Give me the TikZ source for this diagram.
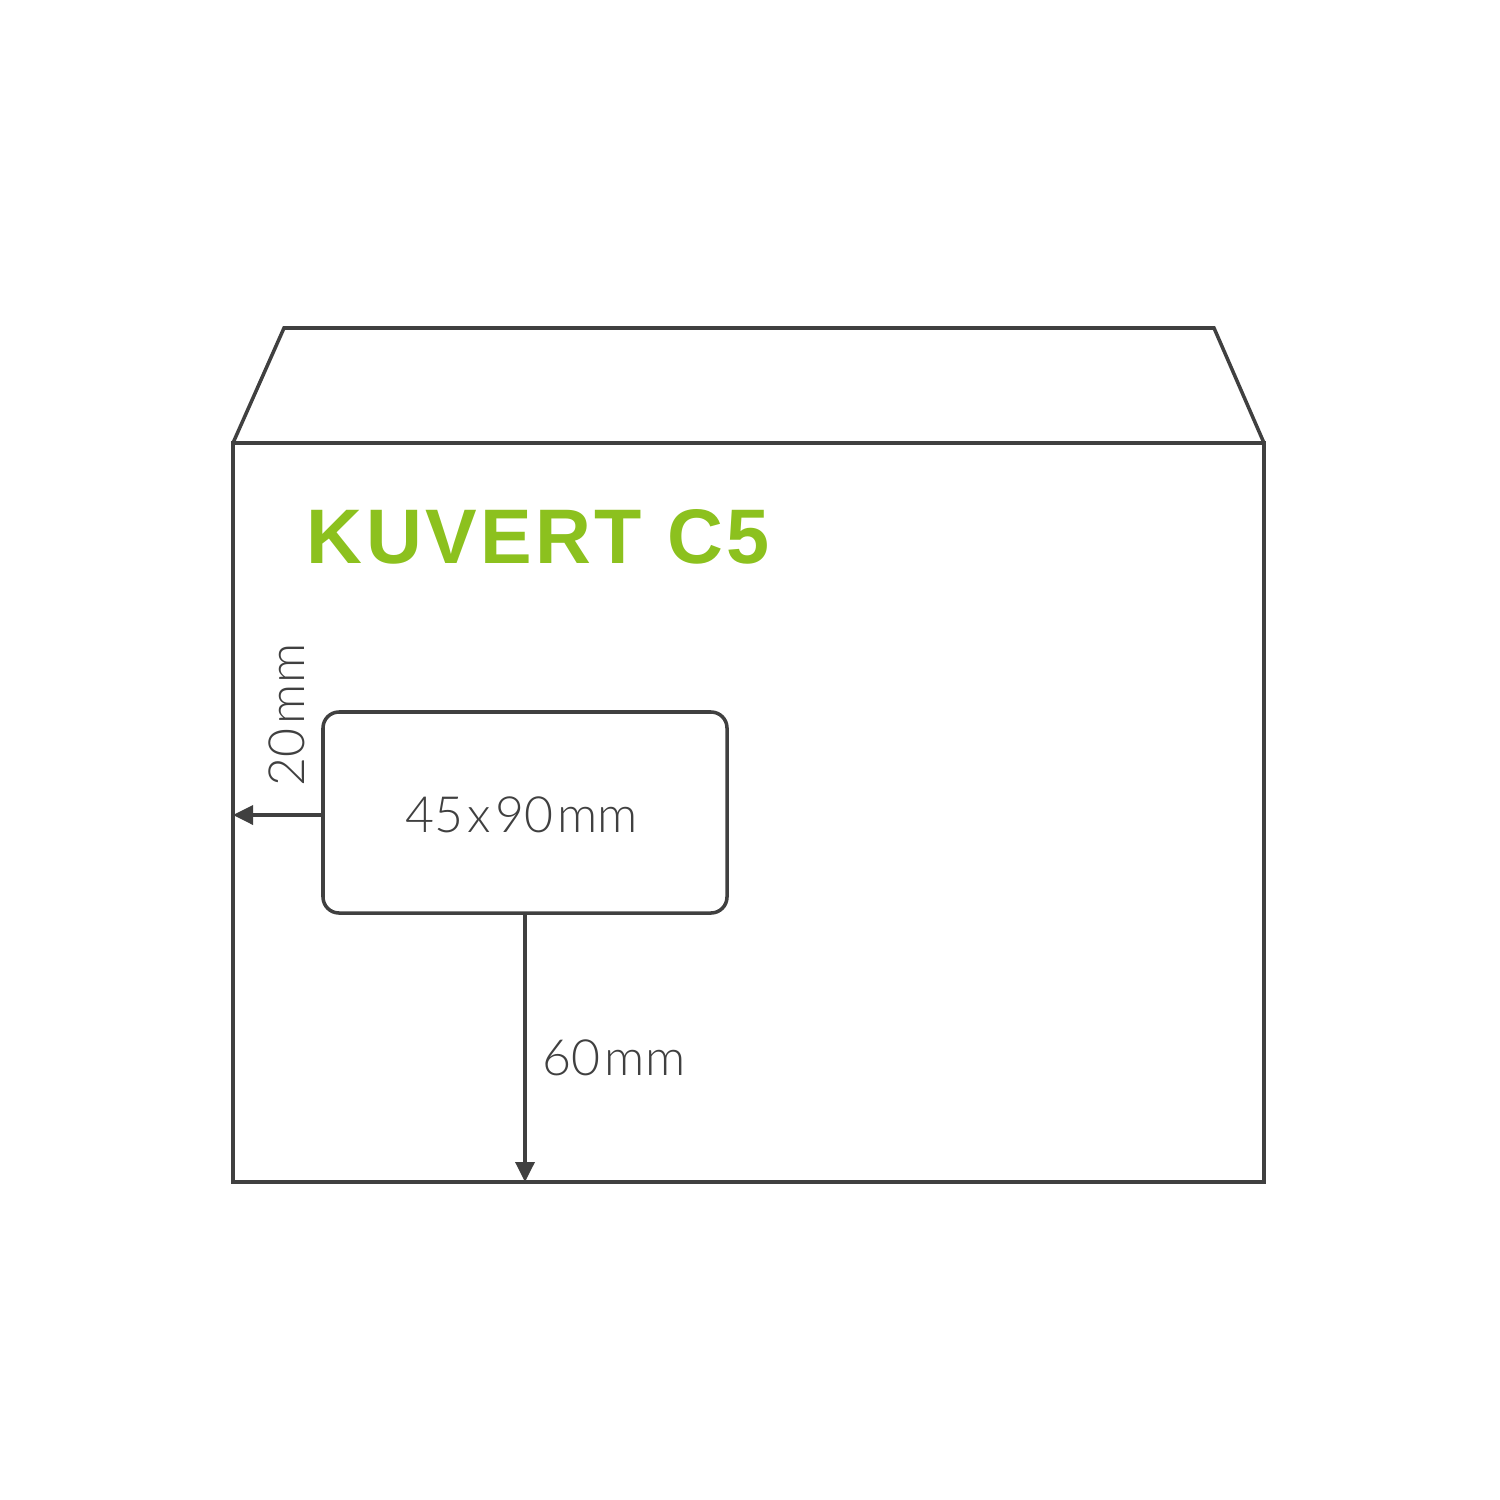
\documentclass[tikz,border=0pt]{standalone}
\usepackage{fontspec}
\setmainfont{Liberation Sans}
\newfontfamily\lightfont{Lato}[UprightFont=* Light]
\newfontfamily\titlefont{Liberation Sans}[LetterSpace=4.5]
\usetikzlibrary{arrows.meta}
\definecolor{kgreen}{RGB}{140,193,30}
\definecolor{kline}{RGB}{64,64,64}
\newcommand{\gap}{\kern1.2pt}
\begin{document}
\begin{tikzpicture}[x=0.01cm, y=-0.01cm, line width=1pt, draw=kline, >={Triangle[length=0.2cm,width=0.19cm]},
  title node/.style={text=kgreen, font=\titlefont\fontsize{22}{26}\selectfont\bfseries, inner sep=0pt},
  size label/.style={text=kline, font=\lightfont\fontsize{14.2}{17}\selectfont, inner sep=0pt}]
\useasboundingbox (0,0) rectangle (1500,1500);

% envelope with flap
\coordinate (bl) at (233,1182);
\coordinate (br) at (1264,1182);
\coordinate (tl) at (233,443);
\coordinate (tr) at (1264,443);
\draw (tl) rectangle (br);
\draw (tl) -- (284,328) -- (1214,328) -- (tr);

% window
\draw [rounded corners=0.16cm] (323,712) rectangle (727,913);
\node [size label](win) at (522,815) {45\gap x\gap 90\gap mm};
\node [title node, anchor=base west](title) at (305,563) {KUVERT C5};

% distances
\coordinate (wl) at (323,815);
\coordinate (el) at (233,815);
\coordinate (wb) at (525,913);
\coordinate (eb) at (525,1182);
\draw [->, kline] (wl) -- (el);
\draw [->, kline] (wb) -- (eb);
\node [size label, rotate=90](left) at (287,715) {20\gap mm};
\node [size label](bottom) at (614,1058) {60\gap mm};
\end{tikzpicture}
\end{document}
